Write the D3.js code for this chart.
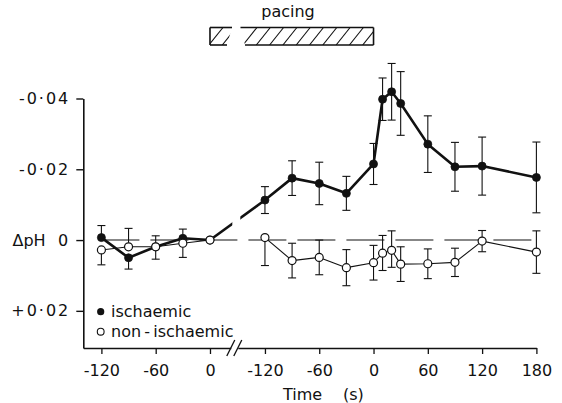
<!DOCTYPE html>
<html>
<head>
<meta charset="utf-8">
<script src="https://cdn.jsdelivr.net/npm/d3@7"></script>
<style>
  html, body { margin: 0; padding: 0; background: #fff; }
  svg { display: block; }
  text { font-family: "DejaVu Sans", "Liberation Sans", sans-serif; fill: #111; }
</style>
</head>
<body>
<script>
// ---- data: change in intracellular pH (ΔpH), before and during pacing ----
// Time before pacing (s)
const preTimes = [-120, -90, -60, -30, 0];
const preIschaemic = [-0.0007, 0.0050, 0.0019, -0.0005, 0];
const preIschErrUp = [0.0034, 0, 0.0031, 0.0026, 0];      // toward more acid (drawn upward)
const preIschErrDown = [0, 0.0032, 0.0035, 0, 0];
const preNonIschaemic = [0.0028, 0.0019, 0.0019, 0.0009, 0];
const preNonErrUp = [0, 0.0052, 0, 0, 0];
const preNonErrDown = [0.0042, 0, 0, 0.0040, 0];

// Time relative to end of pacing (s)
const pacedTimes = [-120, -90, -60, -30, 0, 10, 20, 30, 60, 90, 120, 180];
const pacedIschaemic = [-0.0113, -0.0175, -0.0160, -0.0132, -0.0215, -0.0398, -0.0419, -0.0386, -0.0271, -0.0207, -0.0209, -0.0177];
const pacedIschErr = [0.0038, 0.0049, 0.0060, 0.0048, 0.0058, 0.0060, 0.0080, 0.0090, 0.0080, 0.0069, 0.0082, 0.0100];
const pacedNonIschaemic = [-0.0007, 0.0058, 0.0049, 0.0078, 0.0064, 0.0037, 0.0029, 0.0068, 0.0067, 0.0063, 0.0003, 0.0034];
const pacedNonErrUp = [0, 0.0049, 0.0049, 0.0051, 0.0049, 0.0050, 0.0055, 0.0049, 0.0042, 0.0040, 0.0030, 0.0060];
const pacedNonErrDown = [0.0079, 0.0049, 0.0049, 0.0051, 0.0049, 0.0049, 0.0048, 0.0049, 0.0042, 0.0040, 0.0030, 0.0060];

// axis ticks
const yTicks = [-0.04, -0.02, 0, 0.02];
const yTickLabels = ["-0·04", "-0·02", "0", "+0·02"];
const preXTicks = [-120, -60, 0];
const pacedXTicks = [-120, -60, 0, 60, 120, 180];

const W = 562, H = 403;
const svg = d3.select("body").append("svg").attr("width", W).attr("height", H);

// ---- scales (broken time axis: two panels with equal s/px) ----
const y = d3.scaleLinear().domain([-0.04, 0.0305]).range([98.5, 348]);
const xPre = d3.scaleLinear().domain([-140, 23]).range([83.3, 230.8]);
const xPaced = d3.scaleLinear().domain([-150, 180]).range([237.8, 536.4]);

const ink = "#111";

// ---- axes ----
const yAxis = svg.append("g").attr("transform", `translate(${xPre(-140)},0)`)
  .call(d3.axisLeft(y).tickValues(yTicks).tickFormat((d, i) => yTickLabels[i]).tickSize(7).tickSizeOuter(0).tickPadding(6));
yAxis.select(".domain").attr("stroke", ink).attr("stroke-width", 1.6);
yAxis.selectAll(".tick line").attr("stroke", ink).attr("stroke-width", 1.4);
yAxis.selectAll(".tick text").attr("font-size", 16).attr("letter-spacing", 2)
  .attr("font-family", "DejaVu Sans").attr("fill", ink);
// ΔpH label beside the zero tick
svg.append("text").attr("x", 12.5).attr("y", y(0)).attr("dy", "0.36em")
  .attr("font-size", 16).text("ΔpH");

function bottomAxis(scale, ticks) {
  const g = svg.append("g").attr("transform", `translate(0,${y.range()[1]})`)
    .call(d3.axisBottom(scale).tickValues(ticks).tickFormat(d => String(d))
      .tickSize(6).tickSizeOuter(0).tickPadding(11));
  g.select(".domain").attr("stroke", ink).attr("stroke-width", 1.4);
  g.selectAll(".tick line").attr("stroke", ink).attr("stroke-width", 1.3);
  g.selectAll(".tick text").attr("font-size", 16).attr("font-family", "DejaVu Sans").attr("fill", ink);
  return g;
}
bottomAxis(xPre, preXTicks);
bottomAxis(xPaced, pacedXTicks);

// axis break marks
const breakX = (xPre.range()[1] + xPaced.range()[0]) / 2;
[-3.5, 3.5].forEach(off => {
  svg.append("line")
    .attr("x1", breakX + off - 4).attr("y1", y.range()[1] + 8)
    .attr("x2", breakX + off + 4).attr("y2", y.range()[1] - 8)
    .attr("stroke", ink).attr("stroke-width", 1.3);
});

svg.append("text").attr("x", 283).attr("y", 400).attr("font-size", 16).text("Time");
svg.append("text").attr("x", 343).attr("y", 400).attr("font-size", 16).text("(s)");

// ---- zero reference line ----
svg.append("line")
  .attr("x1", xPre(-120)).attr("x2", xPaced(180) - 3)
  .attr("y1", y(0)).attr("y2", y(0))
  .attr("stroke", ink).attr("stroke-width", 1.1)
  .attr("stroke-dasharray", "38 11");

// ---- pacing bar ----
const barTop = 27.5, barBot = 45;
const pStart = xPre(0), pEnd = xPaced(0);
const defs = svg.append("defs");
const leftPiece = [[pStart, barTop], [pStart + 22, barTop], [pStart + 17, barBot], [pStart, barBot]];
const rightPiece = [[pStart + 30.5, barTop], [pEnd, barTop], [pEnd, barBot], [pStart + 35, barBot]];
defs.append("clipPath").attr("id", "pace-l").append("polygon").attr("points", leftPiece.join(" "));
defs.append("clipPath").attr("id", "pace-r").append("polygon").attr("points", rightPiece.join(" "));
const hatch = (clipId, from, to) => {
  const g = svg.append("g").attr("clip-path", `url(#${clipId})`);
  for (let hx = from; hx < to; hx += 13.3) {
    g.append("line").attr("x1", hx).attr("y1", barBot).attr("x2", hx + 14).attr("y2", barTop)
      .attr("stroke", ink).attr("stroke-width", 1.1);
  }
};
hatch("pace-l", pStart - 1, pStart + 30);
hatch("pace-r", pStart + 33, pEnd + 10);
const barLines = [
  [leftPiece[3], leftPiece[0]], [leftPiece[0], leftPiece[1]], [leftPiece[3], leftPiece[2]],
  [rightPiece[0], rightPiece[1]], [rightPiece[3], rightPiece[2]], [rightPiece[1], rightPiece[2]]
];
barLines.forEach(([a, b]) => svg.append("line")
  .attr("x1", a[0]).attr("y1", a[1]).attr("x2", b[0]).attr("y2", b[1])
  .attr("stroke", ink).attr("stroke-width", 1.6));
svg.append("text").attr("x", 288).attr("y", 17).attr("text-anchor", "middle")
  .attr("font-size", 16).text("pacing");

// ---- series helpers ----
function errorBars(xs, times, vals, up, down) {
  const g = svg.append("g").attr("stroke", ink).attr("stroke-width", 1.1);
  times.forEach((t, i) => {
    const cx = xs(t);
    const ends = [];
    if (up[i] > 0) ends.push(vals[i] - up[i]);
    if (down[i] > 0) ends.push(vals[i] + down[i]);
    ends.forEach(e => {
      g.append("line").attr("x1", cx).attr("x2", cx).attr("y1", y(vals[i])).attr("y2", y(e));
      g.append("line").attr("x1", cx - 4).attr("x2", cx + 4).attr("y1", y(e)).attr("y2", y(e));
    });
  });
}
function seriesLine(xs, times, vals, width) {
  svg.append("path")
    .datum(times.map((t, i) => [xs(t), y(vals[i])]))
    .attr("d", d3.line())
    .attr("fill", "none").attr("stroke", ink).attr("stroke-width", width)
    .attr("stroke-linejoin", "round");
}
function markers(xs, times, vals, filled) {
  svg.append("g").selectAll("circle").data(times).join("circle")
    .attr("cx", t => xs(t)).attr("cy", (t, i) => y(vals[i])).attr("r", 4)
    .attr("fill", filled ? ink : "#fff").attr("stroke", ink).attr("stroke-width", filled ? 0.8 : 1.2);
}

// error bars
errorBars(xPre, preTimes, preIschaemic, preIschErrUp, preIschErrDown);
errorBars(xPre, preTimes, preNonIschaemic, preNonErrUp, preNonErrDown);
errorBars(xPaced, pacedTimes, pacedIschaemic, pacedIschErr, pacedIschErr);
errorBars(xPaced, pacedTimes, pacedNonIschaemic, pacedNonErrUp, pacedNonErrDown);

// non-ischaemic lines (thin)
seriesLine(xPre, preTimes, preNonIschaemic, 1.1);
seriesLine(xPaced, pacedTimes, pacedNonIschaemic, 1.1);

// ischaemic lines (heavy), joined across the axis break with a gap
seriesLine(xPre, preTimes, preIschaemic, 2.6);
seriesLine(xPaced, pacedTimes, pacedIschaemic, 2.6);
const gapClip = defs.append("clipPath").attr("id", "break-gap");
gapClip.append("rect").attr("x", 0).attr("y", 0).attr("width", breakX - 2).attr("height", H);
gapClip.append("rect").attr("x", breakX + 6).attr("y", 0).attr("width", W).attr("height", H);
svg.append("line").attr("clip-path", "url(#break-gap)")
  .attr("x1", xPre(0)).attr("y1", y(preIschaemic[preIschaemic.length - 1]))
  .attr("x2", xPaced(pacedTimes[0])).attr("y2", y(pacedIschaemic[0]))
  .attr("stroke", ink).attr("stroke-width", 2.6);

markers(xPre, preTimes, preIschaemic, true);
markers(xPaced, pacedTimes, pacedIschaemic, true);
markers(xPre, preTimes, preNonIschaemic, false);
markers(xPaced, pacedTimes, pacedNonIschaemic, false);

// ---- legend ----
const legend = svg.append("g");
legend.append("circle").attr("cx", 100.7).attr("cy", 311.7).attr("r", 3.6).attr("fill", ink);
legend.append("circle").attr("cx", 100.7).attr("cy", 331.7).attr("r", 3.4).attr("fill", "#fff").attr("stroke", ink).attr("stroke-width", 1.1);
legend.append("text").attr("x", 111).attr("y", 311.7).attr("dy", "0.36em").attr("font-size", 16).text("ischaemic");
legend.append("text").attr("x", 111).attr("y", 331.7).attr("dy", "0.36em").attr("font-size", 16).text("non\u2009-\u2009ischaemic");
</script>
</body>
</html>
